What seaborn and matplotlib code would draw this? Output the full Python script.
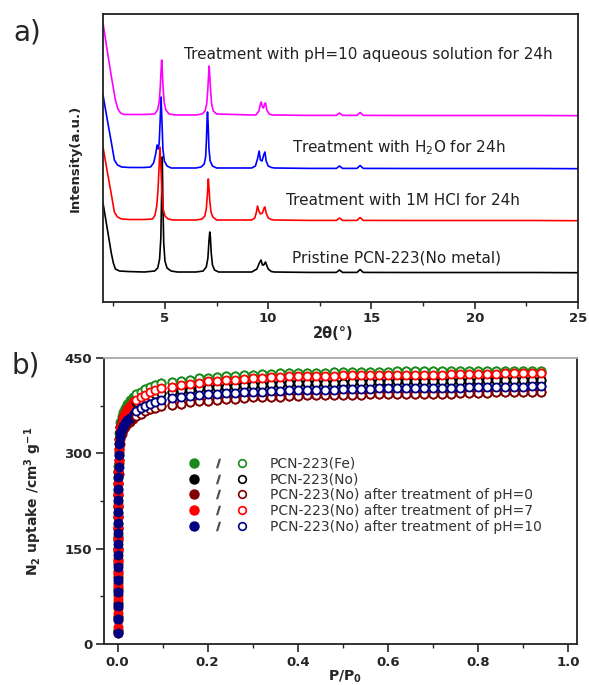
import numpy as np
import pandas as pd
import seaborn as sns
import matplotlib.pyplot as plt
from matplotlib.lines import Line2D
from matplotlib.legend_handler import HandlerTuple
from matplotlib.ticker import MultipleLocator

sns.set_theme(style="ticks")
plt.rcParams['font.family'] = ['DejaVu Sans']
plt.rcParams['mathtext.default'] = 'regular'

# ---------------- panel a: PXRD patterns (intensity above each baseline) ----------------
xrd_names = ['Pristine', 'HCl', 'H2O', 'pH10']
xrd_colors = ['#000000', '#ff0000', '#0000ff', '#ff00ff']
xrd_offsets = [29, 81, 133, 186]

tail_x = [10.3, 12.0, 13.3, 13.45, 13.6, 14.3, 14.45, 14.6, 17.0, 20.0, 23.0, 25.0]
tail_y = [1.0, 0.6, 0.6, 3.0, 0.6, 0.6, 3.5, 0.6, 0.5, 0.5, 0.5, 0.3]

black_x = ([2.0, 2.2, 2.4, 2.5, 2.6, 2.8, 3.2, 4.0,
            4.5, 4.65, 4.74, 4.8, 4.84, 4.87, 4.9, 4.94, 5.0, 5.1, 5.3, 5.6,
            6.5, 6.85, 7.0, 7.08, 7.13, 7.17, 7.2, 7.24, 7.3, 7.4, 7.6,
            9.2, 9.45, 9.57, 9.65, 9.72, 9.78, 9.87, 9.92, 10.0, 10.15] + tail_x)
black_y = ([70, 45, 20, 10, 4, 2, 1.5, 1,
            2, 5, 14, 35, 80, 116, 70, 30, 12, 5, 2, 1,
            1, 2, 6, 15, 32, 41, 36, 20, 8, 3, 1,
            1, 4, 10, 13, 8, 8, 11, 8, 4, 1.5] + tail_y)

red_x = ([2.0, 2.2, 2.4, 2.55, 2.7, 2.9, 3.3, 4.0,
          4.4, 4.52, 4.6, 4.66, 4.71, 4.76, 4.8, 4.85, 4.91, 5.0, 5.15, 5.4,
          6.5, 6.8, 6.93, 7.0, 7.05, 7.08, 7.1, 7.13, 7.17, 7.23, 7.32, 7.5,
          9.2, 9.35, 9.43, 9.48, 9.55, 9.62, 9.72, 9.8, 9.84, 9.9, 10.0, 10.15] + tail_x)
red_y = ([74, 50, 27, 9, 4, 2, 1.5, 1.5,
          2, 6, 15, 30, 52, 74, 55, 30, 12, 5, 2, 1,
          1, 2, 5, 12, 25, 36, 42, 34, 20, 9, 4, 1,
          1, 3, 9, 15, 10, 7, 8, 13, 14, 8, 3, 1.5] + tail_y)

blue_x = ([2.0, 2.2, 2.4, 2.55, 2.7, 2.9, 3.3, 4.0,
           4.3, 4.45, 4.55, 4.62, 4.67, 4.72, 4.77, 4.81, 4.85, 4.9, 4.97, 5.1, 5.3,
           6.5, 6.75, 6.9, 6.97, 7.01, 7.04, 7.06, 7.09, 7.13, 7.19, 7.3, 7.5,
           9.2, 9.38, 9.48, 9.56, 9.62, 9.7, 9.78, 9.84, 9.9, 10.0, 10.15] + tail_x)
blue_y = ([74, 50, 27, 9, 4, 2, 1.5, 1.5,
           2, 6, 15, 24, 20, 26, 50, 72, 50, 20, 8, 3, 1,
           1, 2, 5, 12, 30, 50, 57, 45, 20, 8, 3, 1,
           1, 3, 10, 18, 9, 8, 14, 17, 8, 3, 1.5] + tail_y)

mag_x = ([2.0, 2.2, 2.4, 2.6, 2.72, 2.85, 3.0, 4.0,
          4.5, 4.64, 4.72, 4.77, 4.81, 4.84, 4.87, 4.91, 4.96, 5.04, 5.2, 5.5,
          6.5, 6.8, 6.94, 7.02, 7.07, 7.11, 7.14, 7.17, 7.21, 7.26, 7.34, 7.5,
          9.2, 9.4, 9.55, 9.62, 9.66, 9.72, 9.77, 9.83, 9.87, 9.93, 10.05, 10.2] + tail_x)
mag_y = ([93, 66, 40, 16, 7, 3, 1.5, 1.5,
          2, 6, 14, 28, 45, 56, 45, 28, 14, 6, 2, 1,
          1, 2, 5, 12, 25, 40, 50, 40, 25, 12, 5, 2,
          1, 1, 5, 12, 14, 9, 8, 12, 13, 6, 2, 1] + tail_y)

xrd_labels = ['Pristine PCN-223(No metal)',
              'Treatment with 1M HCl for 24h',
              'Treatment with H$_2$O for 24h',
              'Treatment with pH=10 aqueous solution for 24h']
label_x = [11.17, 10.87, 11.17, 5.92]
label_y = [44, 102, 154, 247]

# ---------------- panel b: N2 isotherms ----------------
iso_names = ['PCN-223(Fe)', 'PCN-223(No)',
             'PCN-223(No) after treatment of pH=0',
             'PCN-223(No) after treatment of pH=7',
             'PCN-223(No) after treatment of pH=10']
iso_colors = ['#1a8a1a', '#000000', '#800000', '#ff0000', '#000080']

pressure = [0.0001, 0.0002, 0.0003, 0.0004, 0.0005, 0.0006, 0.0007, 0.0008, 0.0009,
            0.0010, 0.0012, 0.0014, 0.0016, 0.0019, 0.0023, 0.0028, 0.0036, 0.0048,
            0.0065, 0.009, 0.012, 0.016, 0.021, 0.027, 0.034, 0.042, 0.051, 0.061, 0.072,
            0.084, 0.097,
            0.12, 0.14, 0.16, 0.18, 0.20, 0.22, 0.24,
            0.26, 0.28, 0.30, 0.32, 0.34, 0.36, 0.38,
            0.40, 0.42, 0.44, 0.46, 0.48, 0.50, 0.52,
            0.54, 0.56, 0.58, 0.60, 0.62, 0.64, 0.66,
            0.68, 0.70, 0.72, 0.74, 0.76, 0.78, 0.80,
            0.82, 0.84, 0.86, 0.88, 0.90, 0.92, 0.94]

fe_uptake = [22, 44, 66, 88, 110, 131, 151, 170, 188,
             206, 224, 243, 261, 280, 298, 316, 332, 342,
             350, 358, 365, 372, 378, 384, 389, 393, 397, 401, 404,
             407, 410,
             412, 414, 416, 418, 419, 420, 421,
             422, 423, 424, 425, 425, 426, 426,
             427, 427, 427, 427, 428, 428, 428,
             428, 428, 428, 428, 429, 429, 429,
             429, 429, 429, 429, 429, 429, 430,
             430, 430, 430, 430, 430, 430, 430]
no_uptake = [20, 42, 63, 85, 106, 126, 146, 164, 181,
             199, 216, 235, 253, 271, 289, 306, 323, 334,
             342, 349, 356, 362, 367, 372, 376, 380, 384, 387, 390,
             393, 395,
             397, 399, 400, 402, 403, 404, 405,
             406, 407, 408, 408, 409, 409, 410,
             410, 410, 411, 411, 411, 411, 412,
             412, 412, 412, 412, 413, 413, 413,
             413, 413, 414, 414, 414, 414, 414,
             415, 415, 415, 415, 416, 416, 416]
ph0_uptake = [17, 37, 57, 77, 96, 115, 133, 150, 166,
              182, 199, 217, 234, 251, 268, 285, 302, 314,
              322, 330, 336, 341, 346, 350, 354, 358, 362, 366, 369,
              371, 374,
              376, 378, 380, 382, 383, 384, 385,
              386, 387, 388, 388, 389, 389, 390,
              390, 391, 391, 391, 392, 392, 392,
              392, 393, 393, 393, 393, 393, 394,
              394, 394, 394, 394, 395, 395, 395,
              395, 396, 396, 396, 396, 397, 397]
ph7_uptake = [27, 49, 70, 91, 111, 131, 150, 167, 184,
              201, 219, 237, 254, 272, 289, 307, 323, 334,
              342, 350, 357, 364, 370, 375, 380, 384, 388, 392, 396,
              399, 402,
              405, 407, 409, 411, 413, 414, 415,
              416, 417, 418, 419, 420, 420, 421,
              421, 422, 422, 422, 422, 423, 423,
              423, 423, 423, 424, 424, 424, 424,
              424, 424, 424, 425, 425, 425, 425,
              425, 425, 426, 426, 426, 426, 426]
ph10_uptake = [18, 39, 60, 81, 101, 121, 140, 157, 174,
               191, 208, 227, 244, 262, 279, 297, 315, 325,
               332, 338, 343, 348, 352, 356, 361, 366, 371, 375, 378,
               381, 384,
               387, 389, 390, 392, 393, 394, 395,
               395, 396, 397, 397, 398, 398, 399,
               399, 399, 400, 400, 400, 401, 401,
               401, 401, 402, 402, 402, 402, 402,
               403, 403, 403, 403, 403, 404, 404,
               404, 404, 405, 405, 405, 406, 406]
# desorption branch retraces the adsorption branch down to P/P0 ~ 0.04
desorption_min_p = 0.04

xrd_frames = []
for name, xs, ys, off in zip(xrd_names,
                             [black_x, red_x, blue_x, mag_x],
                             [black_y, red_y, blue_y, mag_y],
                             xrd_offsets):
    xrd_frames.append(pd.DataFrame({'two_theta': xs,
                                    'intensity': np.array(ys) + off,
                                    'sample': name}))
xrd_df = pd.concat(xrd_frames, ignore_index=True)

iso_frames = []
for name, up in zip(iso_names, [fe_uptake, no_uptake, ph0_uptake, ph7_uptake, ph10_uptake]):
    iso_frames.append(pd.DataFrame({'P': pressure, 'uptake': up, 'sample': name}))
iso_df = pd.concat(iso_frames, ignore_index=True)

fig = plt.figure(figsize=(5.89, 6.85), dpi=100)
ax_a = fig.add_axes([0.1749, 0.5591, 0.8064, 0.4205])
ax_b = fig.add_axes([0.1766, 0.0599, 0.8030, 0.4175])

# ---- panel a
sns.lineplot(data=xrd_df, x='two_theta', y='intensity', hue='sample',
             palette=dict(zip(xrd_names, xrd_colors)), estimator=None, sort=False,
             legend=False, linewidth=1.2, ax=ax_a)
for txt, tx, ty in zip(xrd_labels, label_x, label_y):
    ax_a.text(tx, ty, txt, fontsize=11, color='#222222', ha='left', va='center')
ax_a.set_xlim(2, 25)
ax_a.set_ylim(0, 288)
ax_a.xaxis.set_major_locator(MultipleLocator(5))
ax_a.xaxis.set_minor_locator(MultipleLocator(2.5))
ax_a.set_yticks([])
ax_a.tick_params(axis='x', which='major', direction='out', length=5, width=1.2, pad=2,
                 labelsize=9.5)
ax_a.tick_params(axis='x', which='minor', direction='out', length=3, width=1.0)
for lbl in ax_a.get_xticklabels():
    lbl.set_fontweight('bold')
ax_a.set_xlabel('2θ(°)', fontsize=10.5, fontweight='bold')
ax_a.xaxis.set_label_coords(0.484, -0.083)
ax_a.set_ylabel('Intensity(a.u.)', fontsize=9.5, fontweight='bold')
ax_a.yaxis.set_label_coords(-0.044, 0.5)
for sp in ax_a.spines.values():
    sp.set_linewidth(1.3)
    sp.set_color('#222222')

# ---- panel b
for name, col in zip(iso_names, iso_colors):
    sub = iso_df[iso_df['sample'] == name]
    sns.scatterplot(data=sub, x='P', y='uptake', color=col, edgecolor=col,
                    linewidth=0.5, s=44, legend=False, ax=ax_b, zorder=3)
for name, col in zip(iso_names, iso_colors):
    sub = iso_df[(iso_df['sample'] == name) & (iso_df['P'] >= desorption_min_p)]
    sns.scatterplot(data=sub, x='P', y='uptake', color='white', edgecolor=col,
                    linewidth=1.3, s=34, legend=False, ax=ax_b, zorder=4)

handles = []
for col in iso_colors:
    filled = Line2D([], [], ls='none', marker='o', ms=6.5, mfc=col, mec=col)
    slash = Line2D([], [], ls='none', marker='$/$', ms=6, color='#555555')
    hollow = Line2D([], [], ls='none', marker='o', ms=5.5, mfc='white', mec=col, mew=1.2)
    handles.append((filled, slash, hollow))
leg = ax_b.legend(handles, iso_names, handler_map={tuple: HandlerTuple(ndivide=None, pad=0)},
                  frameon=False, loc='upper left', bbox_to_anchor=(0.165, 0.654),
                  borderpad=0, borderaxespad=0, handlelength=5.2, handletextpad=1.1,
                  labelspacing=0.12, fontsize=10)
for t in leg.get_texts():
    t.set_color('#333333')

ax_b.set_xlim(-0.03, 1.02)
ax_b.set_ylim(0, 450)
ax_b.xaxis.set_major_locator(MultipleLocator(0.2))
ax_b.xaxis.set_minor_locator(MultipleLocator(0.1))
ax_b.yaxis.set_major_locator(MultipleLocator(150))
ax_b.yaxis.set_minor_locator(MultipleLocator(75))
ax_b.xaxis.set_major_formatter(plt.FormatStrFormatter('%.1f'))
ax_b.tick_params(which='major', direction='out', length=5.5, width=1.2, pad=3, labelsize=9.5)
ax_b.tick_params(which='minor', direction='out', length=3, width=1.0)
for lbl in ax_b.get_xticklabels() + ax_b.get_yticklabels():
    lbl.set_fontweight('bold')
ax_b.set_xlabel('P/P$_0$', fontsize=10, fontweight='bold')
ax_b.xaxis.set_label_coords(0.51, -0.087)
ax_b.set_ylabel('N$_2$ uptake /cm$^3$ g$^{-1}$', fontsize=10, fontweight='bold')
ax_b.yaxis.set_label_coords(-0.127, 0.5)
for sp in ax_b.spines.values():
    sp.set_linewidth(1.3)
    sp.set_color('#222222')
ax_b.spines['top'].set_color('#aaaaaa')

fig.text(13 / 589, 1 - 33 / 685, 'a)', fontsize=20, va='center', ha='left')
fig.text(12 / 589, 1 - 366 / 685, 'b)', fontsize=20, va='center', ha='left')

fig.savefig('out.png', dpi=100)
